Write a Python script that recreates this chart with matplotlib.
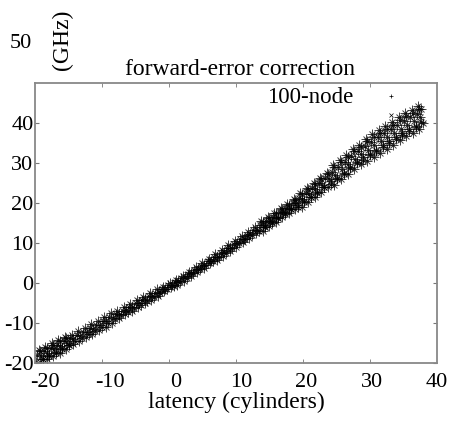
import matplotlib
matplotlib.use("Agg")
import matplotlib.pyplot as plt

plt.rcParams['font.family'] = ['Liberation Serif', 'DejaVu Serif']
plt.rcParams['axes.unicode_minus'] = False

# scatter, grouped per unit of latency
lat_x = [
    -21.3, -20.9, -20.6, -21.1, -20.7,
    -20.3, -19.9, -19.6, -20.1, -19.7,
    -19.3, -18.9, -18.6, -19.1, -18.7,
    -18.3, -17.9, -17.6, -18.1, -17.7,
    -17.3, -16.9, -16.6, -17.1, -16.7,
    -16.3, -15.9, -15.6, -16.1, -15.7,
    -15.3, -14.9, -14.6, -15.1, -14.7,
    -14.3, -13.9, -13.6, -14.1, -13.7,
    -13.3, -12.9, -12.6, -13.1, -12.7,
    -12.3, -11.9, -11.6, -12.1, -11.7,
    -11.3, -10.9, -10.6, -11.1, -10.7,
    -10.3, -9.9, -9.6, -10.1, -9.7,
    -9.3, -8.9, -8.6, -9.1, -8.7,
    -8.3, -7.9, -7.6, -8.1, -7.7,
    -7.3, -6.9, -6.6, -7.1, -6.7,
    -6.3, -5.9, -5.6, -6.1, -5.7,
    -5.3, -4.9, -4.6, -5.1, -4.7,
    -4.3, -3.9, -3.6, -4.1, -3.7,
    -3.3, -2.9, -2.6, -3.1, -2.7,
    -2.3, -1.9, -1.6, -2.1, -1.7,
    -1.3, -0.9, -0.6, -1.1, -0.7,
    -0.3, 0.1, 0.4, -0.1, 0.3,
    0.7, 1.1, 1.4, 0.9, 1.3,
    1.7, 2.1, 2.4, 1.9, 2.3,
    2.7, 3.1, 3.4, 2.9, 3.3,
    3.7, 4.1, 4.4, 3.9, 4.3,
    4.7, 5.1, 5.4, 4.9, 5.3,
    5.7, 6.1, 6.4, 5.9, 6.3,
    6.7, 7.1, 7.4, 6.9, 7.3,
    7.7, 8.1, 8.4, 7.9, 8.3,
    8.7, 9.1, 9.4, 8.9, 9.3,
    9.7, 10.1, 10.4, 9.9, 10.3,
    10.7, 11.1, 11.4, 10.9, 11.3,
    11.7, 12.1, 12.4, 11.9, 12.3,
    12.7, 13.1, 13.4, 12.9, 13.3,
    13.7, 14.1, 14.4, 13.9, 14.3,
    14.7, 15.1, 15.4, 14.9, 15.3,
    15.7, 16.1, 16.4, 15.9, 16.3,
    16.7, 17.1, 17.4, 16.9, 17.3,
    17.7, 18.1, 18.4, 17.9, 18.3,
    18.7, 19.1, 19.4, 18.9, 19.3,
    19.7, 20.1, 20.4, 19.9, 20.3,
    20.7, 21.1, 21.4, 20.9, 21.3,
    21.7, 22.1, 22.4, 21.9, 22.3,
    22.7, 23.1, 23.4, 22.9, 23.3,
    23.7, 24.1, 24.4, 23.9, 24.3,
    24.7, 25.1, 25.4, 24.9, 25.3,
    25.7, 26.1, 26.4, 25.9, 26.3,
    26.7, 27.1, 27.4, 26.9, 27.3,
    27.7, 28.1, 28.4, 27.9, 28.3,
    28.7, 29.1, 29.4, 28.9, 29.3,
    29.7, 30.1, 30.4, 29.9, 30.3,
    30.7, 31.1, 31.4, 30.9, 31.3,
    31.7, 32.1, 32.4, 31.9, 32.3,
    32.7, 33.1, 33.4, 32.9, 33.3,
    33.7, 34.1, 34.4, 33.9, 34.3,
    34.7, 35.1, 35.4, 34.9, 35.3,
    35.7, 36.1, 36.4, 35.9, 36.3,
    36.7, 37.1, 37.4, 36.9, 37.3,
    37.6, 37.8,
]
freq_y = [
    -19.7, -16.8, -18.3, -18.0, -19.8,
    -19.1, -15.9, -17.4, -17.1, -19.1,
    -18.3, -15.1, -16.6, -16.3, -18.3,
    -17.4, -14.2, -15.7, -15.4, -17.4,
    -16.6, -13.4, -14.9, -14.6, -16.6,
    -15.4, -12.9, -14.0, -13.8, -15.3,
    -14.6, -12.1, -13.2, -13.0, -14.5,
    -13.7, -11.2, -12.3, -12.2, -13.6,
    -12.8, -10.3, -11.4, -11.3, -12.7,
    -11.9, -9.4, -10.5, -10.4, -11.8,
    -11.0, -8.5, -9.6, -9.5, -10.9,
    -10.1, -7.6, -8.7, -8.6, -10.0,
    -9.0, -7.0, -7.7, -7.8, -8.7,
    -8.1, -6.1, -6.8, -6.9, -7.8,
    -7.2, -5.2, -5.9, -6.0, -6.9,
    -6.3, -4.3, -5.0, -5.1, -6.0,
    -5.4, -3.4, -4.1, -4.2, -5.1,
    -4.5, -2.5, -3.2, -3.3, -4.2,
    -3.6, -1.6, -2.3, -2.4, -3.3,
    -2.5, -1.0, -1.4, -1.6, -2.1,
    -1.5, 0.0, -0.4, -0.6, -1.1,
    -0.7, 0.8, 0.4, 0.2, -0.4,
    0.3, 1.8, 1.4, 1.2, 0.6,
    1.3, 2.8, 2.4, 2.2, 1.7,
    2.4, 3.9, 3.5, 3.3, 2.8,
    3.4, 4.9, 4.5, 4.3, 3.8,
    4.5, 6.0, 5.6, 5.4, 4.9,
    5.4, 7.2, 6.6, 6.5, 5.7,
    6.5, 8.3, 7.7, 7.6, 6.8,
    7.6, 9.4, 8.8, 8.7, 7.9,
    8.7, 10.5, 9.9, 9.8, 9.0,
    9.9, 11.7, 11.1, 11.0, 10.2,
    11.0, 12.8, 12.2, 12.1, 11.3,
    12.1, 13.9, 13.3, 13.2, 12.4,
    12.9, 15.4, 14.4, 14.4, 13.1,
    14.0, 16.5, 15.5, 15.5, 14.2,
    15.1, 17.6, 16.6, 16.6, 15.3,
    16.2, 18.7, 17.7, 17.7, 16.4,
    17.3, 19.8, 18.8, 18.8, 17.5,
    18.4, 20.9, 19.9, 19.9, 18.6,
    19.0, 22.6, 21.0, 21.3, 19.1,
    20.2, 23.8, 22.2, 22.5, 20.3,
    21.4, 25.0, 23.4, 23.7, 21.5,
    22.6, 26.2, 24.6, 24.9, 22.7,
    23.9, 27.5, 25.9, 26.2, 24.0,
    24.7, 29.4, 27.1, 27.7, 24.6,
    26.0, 30.7, 28.4, 29.0, 25.9,
    27.3, 32.0, 29.7, 30.3, 27.2,
    28.7, 33.4, 31.1, 31.7, 28.6,
    30.0, 34.6, 32.2, 32.9, 29.7,
    30.8, 36.1, 33.3, 34.2, 30.4,
    31.9, 37.2, 34.4, 35.3, 31.5,
    33.0, 38.3, 35.5, 36.4, 32.6,
    34.0, 39.3, 36.5, 37.4, 33.6,
    35.0, 40.3, 37.5, 38.4, 34.6,
    36.1, 41.4, 38.6, 39.5, 35.7,
    37.1, 42.4, 39.6, 40.5, 36.7,
    38.0, 43.3, 40.5, 41.4, 37.6,
    38.9, 44.2, 41.4, 42.3, 38.5,
    43.6, 40.0,
]
# extra points filling the wider ends of the band
fill_x = [
    -20.7, -20.3, -19.7, -19.3, -18.7, -18.3, -17.7, -17.3, -16.7, -16.3,
    13.3, 13.7, 14.3, 14.7, 15.3, 15.7, 16.3, 16.7, 17.3, 17.7, 18.3, 18.7,
    19.3, 19.7, 20.3, 20.7, 21.3, 21.7, 22.3, 22.7, 23.3, 23.7,
    24.3, 24.7, 25.3, 25.7, 26.3, 26.7, 27.3, 27.7, 28.3, 28.7,
    29.3, 29.7, 30.3, 30.7, 31.3, 31.7, 32.3, 32.7, 33.3, 33.7,
    34.3, 34.7, 35.3, 35.7, 36.3, 36.7, 37.3, 37.6,
]
fill_y = [
    -17.1, -18.9, -16.2, -18.0, -15.4, -17.2, -14.5, -16.3, -13.7, -15.5,
    15.2, 14.1, 16.3, 15.2, 17.4, 16.3, 18.5, 17.4, 19.6, 18.5, 20.7, 19.6,
    22.3, 20.4, 23.5, 21.6, 24.7, 22.8, 25.9, 24.1, 27.2, 25.4,
    29.0, 26.3, 30.2, 27.6, 31.6, 29.0, 33.0, 30.2, 34.1, 31.4,
    35.4, 32.2, 36.5, 33.3, 37.6, 34.4, 38.6, 35.4, 39.6, 36.4,
    40.7, 37.5, 41.7, 38.5, 42.6, 39.3, 43.5, 40.2,
]
# two stray points above the band
plus_x, plus_y = [32.9], [46.7]
cross_x, cross_y = [33.0], [42.0]

x_ticks = [-20, -10, 0, 10, 20, 30, 40]
y_ticks = [-20, -10, 0, 10, 20, 30, 40]

fig = plt.figure(figsize=(4.53, 4.24), dpi=100)
ax = fig.add_axes([0.077, 0.144, 0.888, 0.66])

for xs, ys in ((lat_x, freq_y), (fill_x, fill_y)):
    ax.plot(xs, ys, '+', color='black', markersize=6.5, markeredgewidth=0.7, alpha=0.75)
    ax.plot(xs, ys, 'x', color='black', markersize=5, markeredgewidth=0.7, alpha=0.75)
ax.plot(plus_x, plus_y, '+', color='black', markersize=3.5, markeredgewidth=0.5)
ax.plot(cross_x, cross_y, 'x', color='black', markersize=3, markeredgewidth=0.5)

ax.set_xlim(-21.5, 40)
ax.set_ylim(-20, 50)
ax.set_xticks(x_ticks)
ax.set_yticks(y_ticks)
ax.tick_params(axis='x', length=0, pad=7, labelsize=16)
ax.tick_params(axis='y', direction='in', length=3, pad=1, labelsize=16,
               right=True, color='#777777')
# small inward marks along the top and bottom edges
ax.set_xticks([-11.24, -0.98, 9.28, 19.5, 29.8], minor=True)
ax.tick_params(axis='x', which='minor', direction='in', length=3,
               top=True, color='#777777')

for s in ax.spines.values():
    s.set_color('#888888')
    s.set_linewidth(1.3)

ax.set_xlabel("latency (cylinders)", fontsize=17, labelpad=0)
ax.text(20.6, 46.5, "100-node", fontsize=16.5, ha='center', va='center')
fig.text(0.53, 0.835, "forward-error correction", fontsize=17, ha='center', va='center')
fig.text(0.137, 0.905, "(GHz)", fontsize=17, rotation=90, ha='center', va='center')
fig.text(0.045, 0.898, "50", fontsize=16, ha='center', va='center')

fig.savefig("out.png", dpi=100)
